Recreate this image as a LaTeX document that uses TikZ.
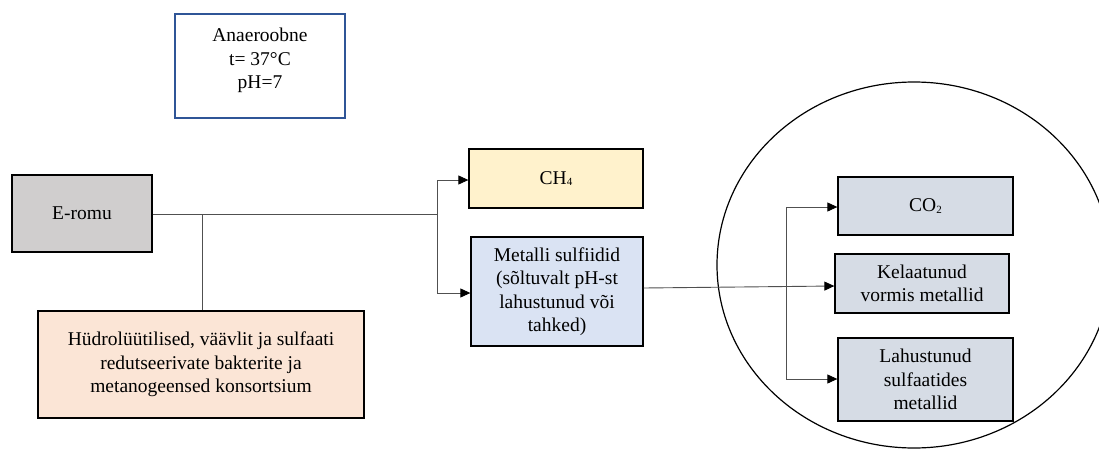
\documentclass[tikz,border=0pt]{standalone}
\usepackage{fontspec}
\setmainfont{Liberation Serif}
\usetikzlibrary{arrows.meta}
\definecolor{condblue}{HTML}{2F5597}
\definecolor{grayfill}{HTML}{D0CECE}
\definecolor{peachfill}{HTML}{FBE5D6}
\definecolor{yellowfill}{HTML}{FFF2CC}
\definecolor{bluefill}{HTML}{DAE3F3}
\definecolor{slatefill}{HTML}{D6DCE5}
\definecolor{linegray}{HTML}{505050}
\newcommand\subdig[1]{\raisebox{-1.5pt}{\fontsize{11}{11}\selectfont #1}}
\tikzset{
  box/.style={draw=black, line width=1.3pt, inner sep=0pt, align=center,
    font=\fontsize{19.5}{23.5}\selectfont},
  conn/.style={draw=linegray, line width=0.9pt},
  arr/.style={conn, -{Triangle[length=10pt,width=9pt,color=black]}},
}
\begin{document}
\begin{tikzpicture}[x=1pt,y=-1pt]
\useasboundingbox (0,0) rectangle (1099,450);
\clip (0,0) rectangle (1099,450);
% condition box
\node[box, draw=condblue, line width=1.2pt] (cond) at (260,66)
  {\parbox[c][104pt][t]{170pt}{\centering\vspace{14pt}Anaeroobne\\ t= 37°C\\ pH=7}};
% E-romu
\node[box, fill=grayfill, minimum width=140, minimum height=77] (erom) at (82,213.5) {E-romu};
% consortium
\node[box, fill=peachfill, minimum width=326, minimum height=107] (cons) at (201,364.5)
  {Hüdrolüütilised, väävlit ja sulfaati\\ redutseerivate bakterite ja\\ metanogeensed konsortsium};
% CH4
\node[box, fill=yellowfill, minimum width=174, minimum height=59] (ch4) at (556,178.5) {CH\subdig{4}};
% Metalli sulfiidid
\node[box, fill=bluefill, minimum width=172, minimum height=109] (msulf) at (557,291.5)
  {Metalli sulfiidid\\ (sõltuvalt pH-st\\ lahustunud või\\ tahked)};
% ellipse
\draw[line width=1.2pt] (914,265) ellipse [x radius=197, y radius=183];
% right boxes
\node[box, fill=slatefill, minimum width=175, minimum height=58] (co2) at (925.5,206) {CO\subdig{2}};
\node[box, fill=slatefill, minimum width=174, minimum height=59] (kel) at (922,283.5)
  {Kelaatunud\\ vormis metallid};
\node[box, fill=slatefill, minimum width=175, minimum height=83] (lah) at (925.5,379.5)
  {Lahustunud\\ sulfaatides\\ metallid};
% connectors
\coordinate (j1) at (202,214);
\coordinate (j2) at (437,214);
\draw[conn] (erom.east |- j1) -- (j2);
\draw[conn] (j1) -- (j1 |- cons.north);
\draw[arr] (j2) |- (ch4.west |- 0,180);
\draw[arr] (j2) |- (msulf.west |- 0,293);
\coordinate (j3) at (786,286);
\draw[arr] (msulf.east |- 0,288) -- (kel.west |- 0,286);
\draw[arr] (j3) |- (co2.west |- 0,207);
\draw[arr] (j3) |- (lah.west |- 0,379);
\end{tikzpicture}
\end{document}
